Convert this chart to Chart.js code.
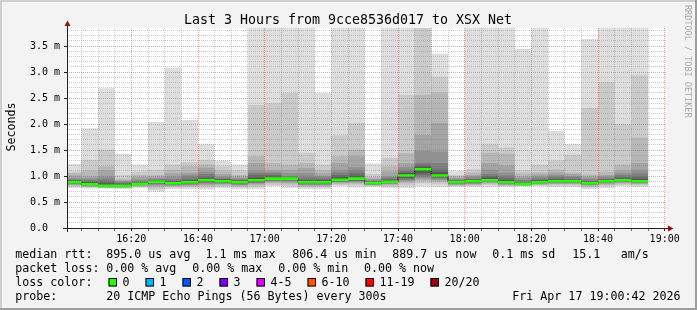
<!DOCTYPE html>
<html>
<head>
<meta charset="utf-8">
<title>Last 3 Hours from 9cce8536d017 to XSX Net</title>
<script src="https://cdn.jsdelivr.net/npm/chart.js@4.4.1/dist/chart.umd.min.js"></script>
<style>
  html, body { margin: 0; padding: 0; background: #f3f3f3; overflow: hidden; }
  canvas { display: block; }
</style>
</head>
<body>
<canvas id="chart" width="697" height="310"></canvas>
<script>
// ---------- data ----------
const chartTitle = 'Last 3 Hours from 9cce8536d017 to XSX Net';
const yAxisTitle = 'Seconds';
const axisStart = '16:00:42';
const axisEnd = '19:00:42';
const barStarts = ['16:00','16:05','16:10','16:15','16:20','16:25','16:30','16:35','16:40','16:45','16:50','16:55',
                   '17:00','17:05','17:10','17:15','17:20','17:25','17:30','17:35','17:40','17:45','17:50','17:55',
                   '18:00','18:05','18:10','18:15','18:20','18:25','18:30','18:35','18:40','18:45','18:50'];
const barEnd = '18:55';
const xTickLabels = ['16:20','16:40','17:00','17:20','17:40','18:00','18:20','18:40','19:00'];
const yTickValues = [0, 0.5, 1, 1.5, 2, 2.5, 3, 3.5];
const yTickLabels = ['0.0', '0.5 m', '1.0 m', '1.5 m', '2.0 m', '2.5 m', '3.0 m', '3.5 m'];

// median round trip time per 5-minute step (ms)
const medianRtt = [0.88,0.84,0.81,0.81,0.85,0.89,0.86,0.88,0.92,0.90,0.88,0.92,
                   0.95,0.95,0.88,0.88,0.93,0.95,0.86,0.89,1.01,1.13,1.01,0.88,
                   0.90,0.92,0.88,0.85,0.88,0.90,0.90,0.86,0.90,0.92,0.90];

// the 20 sorted ping times of each step (ms)
const pingRtt = [
  [0.77,0.80,0.82,0.83,0.84,0.85,0.86,0.86,0.87,0.875,0.885,0.89,0.90,0.92,0.94,0.96,1.01,1.06,1.09,1.23],
  [0.76,0.78,0.79,0.80,0.81,0.82,0.82,0.83,0.83,0.835,0.845,0.86,0.88,0.90,0.93,0.96,0.99,1.10,1.31,1.92],
  [0.76,0.77,0.78,0.78,0.79,0.79,0.80,0.80,0.80,0.805,0.815,0.83,0.86,0.90,0.95,0.99,1.11,1.19,1.51,2.69],
  [0.75,0.77,0.78,0.78,0.79,0.79,0.80,0.80,0.80,0.805,0.815,0.82,0.84,0.86,0.88,0.90,0.92,0.94,1.02,1.43],
  [0.77,0.79,0.80,0.81,0.82,0.83,0.83,0.84,0.84,0.845,0.855,0.86,0.88,0.89,0.91,0.94,0.98,1.02,1.09,1.22],
  [0.70,0.74,0.78,0.81,0.83,0.85,0.86,0.87,0.88,0.885,0.895,0.90,0.91,0.92,0.94,0.96,0.99,1.02,1.12,2.04],
  [0.75,0.78,0.80,0.81,0.82,0.83,0.84,0.85,0.85,0.855,0.865,0.87,0.89,0.91,0.94,0.99,1.05,1.12,1.22,3.09],
  [0.75,0.78,0.80,0.82,0.83,0.84,0.85,0.86,0.87,0.875,0.885,0.89,0.91,0.94,0.99,1.03,1.07,1.19,1.27,2.08],
  [0.74,0.78,0.81,0.83,0.85,0.87,0.88,0.89,0.90,0.915,0.925,0.93,0.95,0.99,1.04,1.09,1.16,1.22,1.31,1.62],
  [0.77,0.80,0.82,0.84,0.85,0.86,0.87,0.88,0.89,0.895,0.905,0.91,0.93,0.95,0.96,0.99,1.04,1.10,1.19,1.30],
  [0.75,0.78,0.80,0.82,0.83,0.84,0.85,0.86,0.87,0.875,0.885,0.89,0.90,0.92,0.94,0.96,0.99,1.02,1.11,1.22],
  [0.75,0.79,0.82,0.84,0.86,0.87,0.88,0.89,0.90,0.915,0.925,0.94,0.97,1.02,1.06,1.11,1.25,1.38,2.37,4.50],
  [0.80,0.83,0.86,0.88,0.90,0.91,0.92,0.93,0.94,0.945,0.955,0.97,0.99,1.02,1.06,1.09,1.12,1.25,2.40,4.50],
  [0.77,0.81,0.84,0.87,0.89,0.91,0.92,0.93,0.94,0.945,0.955,0.96,0.97,0.98,1.00,1.06,1.12,1.22,2.60,4.50],
  [0.75,0.78,0.80,0.82,0.83,0.84,0.85,0.86,0.87,0.875,0.885,0.89,0.91,0.94,0.98,1.06,1.15,1.25,1.45,4.50],
  [0.75,0.78,0.80,0.82,0.83,0.84,0.85,0.86,0.87,0.875,0.885,0.89,0.91,0.94,0.97,1.00,1.05,1.11,1.22,2.60],
  [0.80,0.83,0.85,0.87,0.88,0.89,0.90,0.91,0.92,0.925,0.935,0.95,0.98,1.02,1.07,1.12,1.25,1.38,1.78,4.50],
  [0.78,0.82,0.85,0.87,0.89,0.90,0.91,0.92,0.94,0.945,0.955,0.97,1.00,1.05,1.11,1.17,1.38,1.51,2.02,4.50],
  [0.79,0.81,0.82,0.83,0.83,0.84,0.84,0.85,0.85,0.855,0.865,0.87,0.88,0.89,0.91,0.93,0.95,0.98,1.04,1.24],
  [0.77,0.80,0.82,0.84,0.85,0.86,0.87,0.88,0.88,0.885,0.895,0.90,0.92,0.94,0.97,0.99,1.09,1.19,1.35,4.50],
  [0.77,0.82,0.86,0.89,0.91,0.93,0.95,0.97,0.99,1.005,1.015,1.03,1.06,1.09,1.12,1.18,1.25,1.44,2.56,4.50],
  [0.80,0.86,0.90,0.93,0.96,0.99,1.02,1.06,1.10,1.125,1.135,1.15,1.18,1.22,1.25,1.48,1.79,2.56,4.30,4.50],
  [0.79,0.84,0.88,0.91,0.93,0.95,0.97,0.99,1.00,1.005,1.015,1.04,1.08,1.13,1.25,1.47,2.02,2.61,2.91,3.36],
  [0.79,0.81,0.82,0.83,0.84,0.85,0.86,0.86,0.87,0.875,0.885,0.89,0.90,0.91,0.93,0.95,0.97,1.00,1.02,1.10],
  [0.79,0.81,0.83,0.84,0.85,0.86,0.87,0.88,0.89,0.895,0.905,0.91,0.92,0.94,0.96,0.99,1.02,1.07,1.13,4.50],
  [0.79,0.83,0.85,0.87,0.88,0.89,0.90,0.91,0.91,0.915,0.925,0.94,0.97,1.00,1.04,1.12,1.25,1.45,1.62,4.50],
  [0.79,0.81,0.82,0.83,0.84,0.85,0.86,0.87,0.87,0.875,0.885,0.89,0.92,0.96,1.01,1.07,1.21,1.43,1.55,4.50],
  [0.80,0.81,0.82,0.82,0.83,0.83,0.84,0.84,0.845,0.845,0.855,0.86,0.87,0.89,0.92,0.96,0.99,1.05,1.11,3.45],
  [0.80,0.82,0.83,0.84,0.85,0.86,0.86,0.87,0.87,0.875,0.885,0.89,0.91,0.93,0.96,0.99,1.03,1.07,1.22,4.50],
  [0.79,0.82,0.84,0.85,0.86,0.87,0.88,0.89,0.89,0.895,0.905,0.91,0.93,0.96,0.99,1.02,1.07,1.12,1.30,1.87],
  [0.79,0.82,0.84,0.85,0.86,0.87,0.88,0.89,0.89,0.895,0.905,0.91,0.92,0.94,0.97,1.00,1.04,1.07,1.41,1.62],
  [0.75,0.78,0.80,0.82,0.83,0.84,0.84,0.85,0.85,0.855,0.865,0.87,0.88,0.90,0.93,0.96,0.99,1.03,2.31,3.64],
  [0.77,0.81,0.83,0.85,0.86,0.87,0.88,0.89,0.89,0.895,0.905,0.91,0.92,0.94,0.96,0.99,1.02,1.09,2.81,4.50],
  [0.80,0.83,0.85,0.87,0.88,0.89,0.90,0.91,0.91,0.915,0.925,0.93,0.95,0.98,1.02,1.06,1.11,1.22,2.00,4.50],
  [0.79,0.82,0.84,0.85,0.86,0.87,0.88,0.89,0.89,0.895,0.905,0.92,0.95,0.99,1.05,1.12,1.25,1.74,2.94,4.50]
];

// smoke shades, outermost pair of pings first
const smokeGrays = [221, 202, 183, 164, 145, 126, 107, 88, 69, 50];

const lossLabels = ['0', '1', '2', '3', '4-5', '6-10', '11-19', '20/20'];
const lossColors = ['#26ff00', '#00b8ff', '#0059ff', '#7e00ff', '#dd00ff', '#ff5500', '#ff0000', '#a10000'];

const statsMedian = ['median rtt:', '895.0 us avg', '1.1 ms max', '806.4 us min', '889.7 us now', '0.1 ms sd', '15.1', 'am/s'];
const statsLoss = ['packet loss:', '0.00 % avg', '0.00 % max', '0.00 % min', '0.00 % now'];
const probeText = ['probe:', '20 ICMP Echo Pings (56 Bytes) every 300s'];
const dateText = 'Fri Apr 17 19:00:42 2026';
const creditText = 'RRDTOOL / TOBI OETIKER';

// ---------- helpers ----------
function toMin(t) {
  const p = t.split(':').map(Number);
  return (p[0] - 16) * 60 + p[1] + (p[2] || 0) / 60;
}
const FONT = "'DejaVu Sans Mono', monospace";
const barX = barStarts.map(toMin).concat([toMin(barEnd)]);
function pingSeries(j) {
  return barX.map((x, k) => ({ x, y: pingRtt[Math.min(k, pingRtt.length - 1)][j] }));
}

const datasets = [];
smokeGrays.forEach((g, b) => {
  const lowIdx = datasets.length;
  datasets.push({ data: pingSeries(b), stepped: true, borderWidth: 0, pointRadius: 0, fill: false, order: 100 - b });
  datasets.push({ data: pingSeries(19 - b), stepped: true, borderWidth: 0, pointRadius: 0,
                  fill: lowIdx, backgroundColor: `rgb(${g},${g},${g})`, order: 100 - b });
});
datasets.push({
  data: barX.map((x, k) => ({ x, y: medianRtt[Math.min(k, medianRtt.length - 1)] })),
  stepped: true, borderColor: '#202020', borderWidth: 1, pointRadius: 0, fill: false, order: 2
});
const greenPts = [];
barStarts.forEach((s, k) => {
  greenPts.push({ x: barX[k], y: medianRtt[k] }, { x: barX[k + 1], y: medianRtt[k] }, { x: barX[k + 1], y: null });
});
datasets.push({ data: greenPts, borderColor: lossColors[0], borderWidth: 2.6, pointRadius: 0, fill: false,
                spanGaps: false, order: 1 });

const xGrid = [];
for (let m = 5; m <= 180; m += 5) xGrid.push(m);
const yGrid = [];
for (let i = 0; i <= 38; i++) yGrid.push(i / 10);
const xLabelAt = {};
xTickLabels.forEach(l => { xLabelAt[Math.round(toMin(l))] = l; });

const GRID_MINOR = 'rgba(140,140,140,0.45)';
const GRID_MAJOR = 'rgba(225,70,70,0.5)';
const isHalf = v => Math.abs(v * 2 - Math.round(v * 2)) < 1e-6;

const rrdPlugin = {
  id: 'rrd',
  beforeDraw(chart) {
    const { ctx, chartArea: a, width: W, height: H } = chart;
    ctx.save();
    ctx.fillStyle = '#f3f3f3'; ctx.fillRect(0, 0, W, H);
    ctx.fillStyle = '#cfcfcf'; ctx.fillRect(0, 0, W, 2); ctx.fillRect(0, 0, 2, H);
    ctx.fillStyle = '#9e9e9e'; ctx.fillRect(0, H - 2, W, 2); ctx.fillRect(W - 2, 0, 2, H);
    ctx.fillStyle = '#ffffff'; ctx.fillRect(a.left, a.top, a.right - a.left, a.bottom - a.top);
    ctx.restore();
  },
  afterDraw(chart) {
    const { ctx, chartArea: a } = chart;
    ctx.save();
    // axes
    ctx.strokeStyle = '#202020'; ctx.lineWidth = 1;
    ctx.beginPath();
    ctx.moveTo(a.left - 4, a.bottom + 0.5); ctx.lineTo(a.right + 2, a.bottom + 0.5);
    ctx.moveTo(a.left + 0.5, a.bottom + 4); ctx.lineTo(a.left + 0.5, a.top - 3);
    ctx.stroke();
    ctx.fillStyle = '#8e1414';
    ctx.beginPath();
    ctx.moveTo(a.right + 1, a.bottom - 2.5); ctx.lineTo(a.right + 1, a.bottom + 3.5); ctx.lineTo(a.right + 6.5, a.bottom + 0.5);
    ctx.closePath(); ctx.fill();
    ctx.beginPath();
    ctx.moveTo(a.left - 2.5, a.top - 2); ctx.lineTo(a.left + 3.5, a.top - 2); ctx.lineTo(a.left + 0.5, a.top - 7.5);
    ctx.closePath(); ctx.fill();

    // title
    ctx.fillStyle = '#000';
    ctx.textBaseline = 'alphabetic';
    ctx.textAlign = 'center';
    ctx.font = `13.3px ${FONT}`;
    ctx.fillText(chartTitle, 348, 24);

    // y axis title
    ctx.save();
    ctx.font = `11.65px ${FONT}`;
    ctx.translate(15, 127);
    ctx.rotate(-Math.PI / 2);
    ctx.textAlign = 'center';
    ctx.fillText(yAxisTitle, 0, 0);
    ctx.restore();

    // credit
    ctx.save();
    ctx.font = `8.5px ${FONT}`;
    ctx.fillStyle = '#a8a8a8';
    ctx.translate(687.5, 5);
    ctx.rotate(Math.PI / 2);
    ctx.textAlign = 'left';
    ctx.textBaseline = 'middle';
    ctx.fillText(creditText, 0, 0);
    ctx.restore();

    // legend
    ctx.font = `11.65px ${FONT}`;
    ctx.textAlign = 'left';
    ctx.fillStyle = '#000';
    const l1x = [15.3, 106.3, 205.5, 292.3, 392.3, 492.3, 572.2, 620.7];
    statsMedian.forEach((t, i) => ctx.fillText(t, l1x[i], 257.7));
    const l2x = [15.3, 106.3, 192.3, 278.3, 364];
    statsLoss.forEach((t, i) => ctx.fillText(t, l2x[i], 271.7));
    ctx.fillText('loss color:', 15.3, 285.7);
    const boxX = [108.5, 145.5, 182.5, 219.5, 256.5, 307.5, 365.5, 430.5];
    lossLabels.forEach((t, i) => {
      ctx.fillStyle = lossColors[i];
      ctx.fillRect(boxX[i], 278.5, 8, 8);
      ctx.strokeStyle = '#000'; ctx.lineWidth = 1;
      ctx.strokeRect(boxX[i] + 0.5, 278.5, 7.5, 7.5);
      ctx.fillStyle = '#000';
      ctx.fillText(t, boxX[i] + 14, 285.7);
    });
    ctx.fillText(probeText[0], 15.3, 299.5);
    ctx.fillText(probeText[1], 106.3, 299.5);
    ctx.textAlign = 'right';
    ctx.fillText(dateText, 680.5, 299.5);
    ctx.restore();
  }
};

Chart.defaults.font.family = FONT;
new Chart(document.getElementById('chart'), {
  type: 'line',
  data: { datasets },
  options: {
    responsive: false,
    animation: false,
    devicePixelRatio: 1,
    events: [],
    layout: { padding: { left: 0, right: 30, top: 28, bottom: 0 } },
    plugins: { legend: { display: false }, tooltip: { enabled: false }, title: { display: false } },
    elements: { point: { radius: 0 }, line: { tension: 0 } },
    scales: {
      x: {
        type: 'linear',
        min: toMin(axisStart),
        max: toMin(axisEnd),
        afterBuildTicks: s => { s.ticks = xGrid.map(v => ({ value: v })); },
        afterFit: s => { s.height = 82; },
        ticks: {
          autoSkip: false, maxRotation: 0, minRotation: 0, padding: 2, color: '#000',
          font: { size: 10, family: FONT },
          callback: v => (Math.abs(v % 20) < 1e-6 && xLabelAt[Math.round(v)] !== undefined) ? xLabelAt[Math.round(v)] : ''
        },
        grid: {
          z: 1, lineWidth: 1, drawTicks: true, tickLength: 3,
          color: c => (c.tick && c.tick.value % 20 === 0) ? GRID_MAJOR : GRID_MINOR,
          tickColor: c => (c.tick && c.tick.value % 20 === 0) ? '#202020' : 'rgba(32,32,32,0.6)'
        },
        border: { display: false, dash: [1, 1] }
      },
      y: {
        min: 0,
        max: 3.85,
        afterBuildTicks: s => { s.ticks = yGrid.map(v => ({ value: v })); },
        afterFit: s => { s.width = 67; },
        ticks: {
          autoSkip: false, padding: 4, color: '#000', font: { size: 10, family: FONT },
          callback: v => {
            const j = yTickValues.findIndex(t => Math.abs(t - v) < 1e-6);
            return j < 0 ? '' : yTickLabels[j].padEnd(5, ' ');
          }
        },
        grid: {
          z: 1, lineWidth: 1, drawTicks: true, tickLength: 3,
          color: c => (c.tick && isHalf(c.tick.value)) ? GRID_MAJOR : GRID_MINOR,
          tickColor: c => (c.tick && isHalf(c.tick.value)) ? '#202020' : 'rgba(0,0,0,0)'
        },
        border: { display: false, dash: [1, 1] }
      }
    }
  },
  plugins: [rrdPlugin]
});
</script>
</body>
</html>
